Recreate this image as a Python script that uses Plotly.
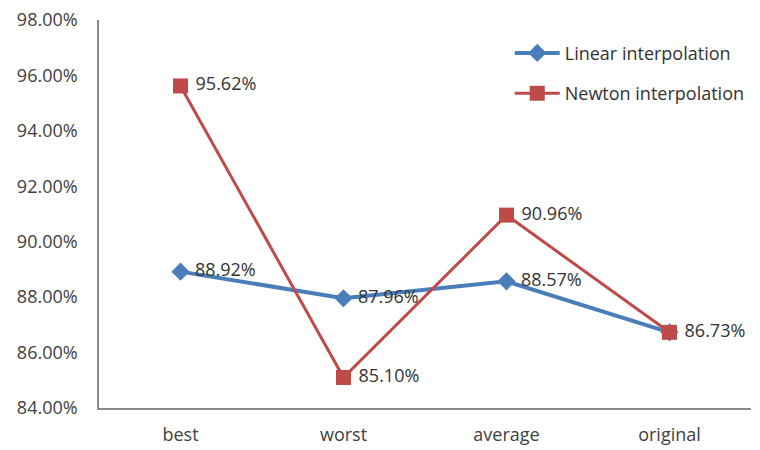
import plotly.graph_objects as go

categories = ["best", "worst", "average", "original"]
linear = [88.92, 87.96, 88.57, 86.73]
newton = [95.62, 85.10, 90.96, 86.73]
y_ticks = [84, 86, 88, 90, 92, 94, 96, 98]

font_family = "Open Sans, Liberation Sans, sans-serif"
NB = "\u00a0"

# hide the linear label where it coincides with the newton one
linear_text = ["" if a == b else f"{NB}{a:.2f}%" for a, b in zip(linear, newton)]
newton_text = [f"{NB}{v:.2f}%" for v in newton]

fig = go.Figure()
fig.add_trace(go.Scatter(
    x=categories, y=linear, name="Linear interpolation",
    mode="lines+markers+text", legendgroup="a",
    line=dict(color="#4a7ebb", width=4),
    marker=dict(symbol="diamond", size=14, color="#4a7ebb"),
    text=linear_text, textposition="middle right",
    textfont=dict(size=18, color="#333333", family=font_family),
    cliponaxis=False,
))
fig.add_trace(go.Scatter(
    x=categories, y=newton, name="Newton interpolation",
    mode="lines+markers+text", legendgroup="b",
    line=dict(color="#be4b48", width=3),
    marker=dict(symbol="square", size=15, color="#be4b48"),
    text=newton_text, textposition="middle right",
    textfont=dict(size=18, color="#333333", family=font_family),
    cliponaxis=False,
))

fig.update_layout(
    width=760, height=450,
    margin=dict(l=99, r=9, t=20, b=42),
    paper_bgcolor="white", plot_bgcolor="white",
    font=dict(family=font_family, size=18, color="#404040"),
    legend=dict(x=0.63, y=0.962, xanchor="left", yanchor="top",
                font=dict(size=18, color="#333333"), bgcolor="rgba(0,0,0,0)",
                traceorder="grouped", tracegroupgap=14, itemwidth=45),
    showlegend=True,
)
fig.update_xaxes(
    range=[-0.5, 3.5], showgrid=False, showline=True, linecolor="#8c8c8c",
    linewidth=1.5, ticks="", tickfont=dict(size=18, color="#404040"),
    ticklabelstandoff=10, automargin=False,
)
fig.update_yaxes(
    range=[84, 98], tickvals=y_ticks, ticktext=[f"{v:.2f}%" for v in y_ticks],
    showgrid=False, showline=True, linecolor="#8c8c8c", linewidth=1.5,
    ticks="", zeroline=False, tickfont=dict(size=18, color="#404040"),
    ticklabelstandoff=16, automargin=False,
)

fig.write_html("out.html")
